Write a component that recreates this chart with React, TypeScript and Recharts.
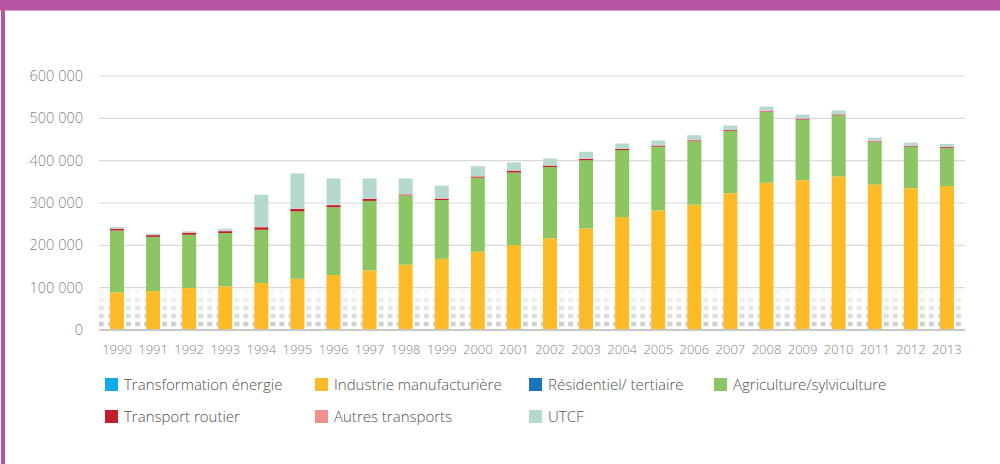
import { BarChart, Bar, XAxis, YAxis, CartesianGrid, ReferenceArea } from 'recharts';

const years = [
  '1990', '1991', '1992', '1993', '1994', '1995', '1996', '1997', '1998', '1999', '2000', '2001',
  '2002', '2003', '2004', '2005', '2006', '2007', '2008', '2009', '2010', '2011', '2012', '2013',
];

const transformationEnergie = [0, 0, 0, 0, 0, 0, 0, 0, 0, 0, 0, 0, 0, 0, 0, 0, 0, 0, 0, 0, 0, 0, 0, 0];
const industrieManufacturiere = [
  89000, 92000, 99000, 103000, 111000, 121000, 130000, 141000, 154000, 168000, 185000, 201000,
  217000, 240000, 267000, 282000, 296000, 323000, 348000, 354000, 363000, 344000, 335000, 340000,
];
const residentielTertiaire = [0, 0, 0, 0, 0, 0, 0, 0, 0, 0, 0, 0, 0, 0, 0, 0, 0, 0, 0, 0, 0, 0, 0, 0];
const agricultureSylviculture = [
  146000, 128000, 126000, 126000, 126000, 159000, 160000, 164000, 164000, 139000, 175000, 171000,
  168000, 161000, 158000, 151000, 150000, 147000, 167000, 143000, 144000, 100000, 98000, 90000,
];
const transportRoutier = [
  3500, 4000, 4500, 4500, 5500, 6000, 5000, 4500, 2000, 3000, 2500, 4000,
  3000, 3000, 2500, 2500, 2000, 2000, 1500, 2000, 2000, 1500, 1500, 2000,
];
const autresTransports = [
  1500, 1000, 1000, 1000, 1000, 1000, 1000, 1000, 1000, 1000, 1000, 1000,
  1000, 1000, 500, 500, 1500, 500, 2000, 500, 500, 2000, 1000, 500,
];
const utcf = [
  3500, 3000, 2500, 4500, 76000, 83000, 62000, 47500, 37000, 30000, 23500, 19000,
  16000, 16000, 12500, 11500, 10500, 10500, 9500, 9500, 9000, 7000, 7000, 7000,
];

const yTicks = [0, 100000, 200000, 300000, 400000, 500000, 600000];

const series = [
  { key: 'transformation', name: 'Transformation énergie', color: '#13abe5', values: transformationEnergie },
  { key: 'industrie', name: 'Industrie manufacturière', color: '#fdbb27', values: industrieManufacturiere },
  { key: 'residentiel', name: 'Résidentiel/ tertiaire', color: '#1874bb', values: residentielTertiaire },
  { key: 'agriculture', name: 'Agriculture/sylviculture', color: '#8bc663', values: agricultureSylviculture },
  { key: 'routier', name: 'Transport routier', color: '#c0202a', values: transportRoutier },
  { key: 'autres', name: 'Autres transports', color: '#f28e8b', values: autresTransports },
  { key: 'utcf', name: 'UTCF', color: '#b6d9cf', values: utcf },
];

const data = years.map((year, i) => {
  const row: Record<string, string | number> = { year };
  series.forEach((s) => {
    row[s.key] = s.values[i];
  });
  return row;
});

const formatThousands = (v: number) => String(v).replace(/\B(?=(\d{3})+(?!\d))/g, ' ');

const font = '"Open Sans", sans-serif';
const purple = '#b656a2';

// grey squares fading upward, as in the original sheet background
const dotRows = ['#f6f6f6', '#eeeeee', '#e5e5e5', '#dcdcdc', '#cfcfcf'];

const legendCols = [105, 315, 529, 714];

export default function App() {
  return (
    <div
      style={{
        position: 'absolute',
        left: 0,
        top: 0,
        width: 1000,
        height: 464,
        background: '#fff',
        fontFamily: font,
        overflow: 'hidden',
      }}
    >
      <div style={{ position: 'absolute', left: 0, top: 0, width: 1000, height: 10, background: purple }} />
      <div style={{ position: 'absolute', left: 0, top: 10, width: 1000, height: 1, background: '#d9a5cf' }} />
      <div style={{ position: 'absolute', left: 1, top: 0, width: 4, height: 464, background: purple }} />

      <div style={{ position: 'absolute', left: 0, top: 0 }}>
        <BarChart
          width={1000}
          height={372}
          data={data}
          margin={{ top: 76, right: 35, bottom: 0, left: 0 }}
          barSize={14}
        >
          <defs>
            <pattern id="dots" patternUnits="objectBoundingBox" x={0} y={0} width={1 / 96} height={1}>
              {dotRows.map((c, i) => (
                <rect key={c} x={0} y={2 + i * 8} width={5} height={4.5} fill={c} />
              ))}
            </pattern>
          </defs>
          <CartesianGrid vertical={false} stroke="#d9d9d9" strokeWidth={1.2} />
          <ReferenceArea y1={0} y2={100000} fill="url(#dots)" fillOpacity={1} stroke="none" />
          <XAxis
            dataKey="year"
            axisLine={{ stroke: '#c8c8c8', strokeWidth: 2 }}
            tickLine={false}
            tickMargin={9}
            height={42}
            interval={0}
            tick={{ fill: '#7f7f7f', fontSize: 13, fontFamily: font, fontWeight: 300 }}
          />
          <YAxis
            domain={[0, 600000]}
            ticks={yTicks}
            tickFormatter={formatThousands}
            axisLine={false}
            tickLine={false}
            tickMargin={10}
            width={99}
            tick={{ fill: '#7f7f7f', fontSize: 14.5, fontFamily: font, fontWeight: 300 }}
          />
          {series.map((s) => (
            <Bar
              key={s.key}
              dataKey={s.key}
              name={s.name}
              stackId="a"
              fill={s.color}
              isAnimationActive={false}
            />
          ))}
        </BarChart>
      </div>

      {series.map((s, i) => {
        const col = i < 4 ? i : i - 4;
        const row = i < 4 ? 0 : 1;
        return (
          <div
            key={s.key}
            style={{
              position: 'absolute',
              left: legendCols[col],
              top: 376 + row * 32,
              display: 'flex',
              alignItems: 'center',
              height: 16,
              fontSize: 15,
              fontWeight: 300,
              color: '#4f4f4f',
              whiteSpace: 'nowrap',
            }}
          >
            <span style={{ display: 'inline-block', width: 13, height: 13, background: s.color, marginRight: 6 }} />
            <span>{s.name}</span>
          </div>
        );
      })}
    </div>
  );
}
